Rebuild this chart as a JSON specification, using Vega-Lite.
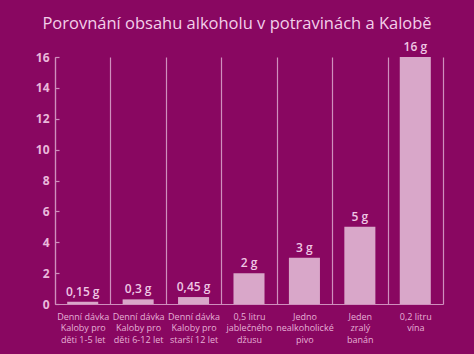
{
  "$schema": "https://vega.github.io/schema/vega-lite/v6.json",
  "width": 388,
  "height": 247,
  "autosize": {"type": "none"},
  "padding": {"left": 55, "top": 57, "right": 31, "bottom": 50},
  "background": "#890761",
  "title": {
    "text": "Porovnání obsahu alkoholu v potravinách a Kalobě",
    "font": "Open Sans",
    "fontSize": 16.5,
    "fontWeight": "normal",
    "color": "#f3cfea",
    "anchor": "middle",
    "dx": -12,
    "offset": 9
  },
  "data": {
    "values": [
      {"kat": "Denní dávka|Kaloby pro|děti 1-5 let", "g": 0.15, "popis": "0,15 g"},
      {"kat": "Denní dávka|Kaloby pro|děti 6-12 let", "g": 0.3, "popis": "0,3 g"},
      {"kat": "Denní dávka|Kaloby pro|starší 12 let", "g": 0.45, "popis": "0,45 g"},
      {"kat": "0,5 litru|jablečného|džusu", "g": 2, "popis": "2 g"},
      {"kat": "Jedno|nealkoholické|pivo", "g": 3, "popis": "3 g"},
      {"kat": "Jeden|zralý|banán", "g": 5, "popis": "5 g"},
      {"kat": "0,2 litru|vína", "g": 16, "popis": "16 g"}
    ]
  },
  "config": {
    "view": {"stroke": null},
    "font": "Open Sans"
  },
  "encoding": {
    "x": {
      "field": "kat",
      "type": "nominal",
      "sort": null,
      "scale": {"paddingInner": 0, "paddingOuter": 0},
      "axis": {
        "title": null,
        "labelAngle": 0,
        "labelExpr": "datum.value ? split(datum.value, '|') : ''",
        "labelFont": "Open Sans",
        "labelFontSize": 9,
        "labelLineHeight": 11.5,
        "labelColor": "#e6b0d6",
        "labelPadding": 8,
        "labelOverlap": false,
        "ticks": false,
        "domain": true,
        "domainColor": "#cf8fbd",
        "domainWidth": 1.2,
        "grid": true,
        "tickBand": "extent",
        "gridColor": "#cf8fbd",
        "gridWidth": 1.2,
        "gridOpacity": 1
      }
    },
    "y": {
      "field": "g",
      "type": "quantitative",
      "scale": {"domain": [0, 16], "nice": false},
      "axis": {
        "title": null,
        "values": [0, 2, 4, 6, 8, 10, 12, 14, 16],
        "labelOverlap": false,
        "grid": false,
        "labelFont": "Open Sans",
        "labelFontSize": 12,
        "labelFontWeight": "bold",
        "labelColor": "#e9b8db",
        "labelPadding": 10,
        "ticks": true,
        "tickSize": -4,
        "tickWidth": 1.2,
        "tickColor": "#cf8fbd",
        "domainColor": "#cf8fbd",
        "domainWidth": 1.2
      }
    }
  },
  "layer": [
    {
      "mark": {"type": "bar", "color": "#d9a7c9", "width": {"band": 0.56}}
    },
    {
      "mark": {"type": "text", "dy": -10, "font": "Open Sans", "fontSize": 12, "fontWeight": 600, "color": "#efc6e4"},
      "encoding": {
        "text": {"field": "popis"}
      }
    }
  ]
}
